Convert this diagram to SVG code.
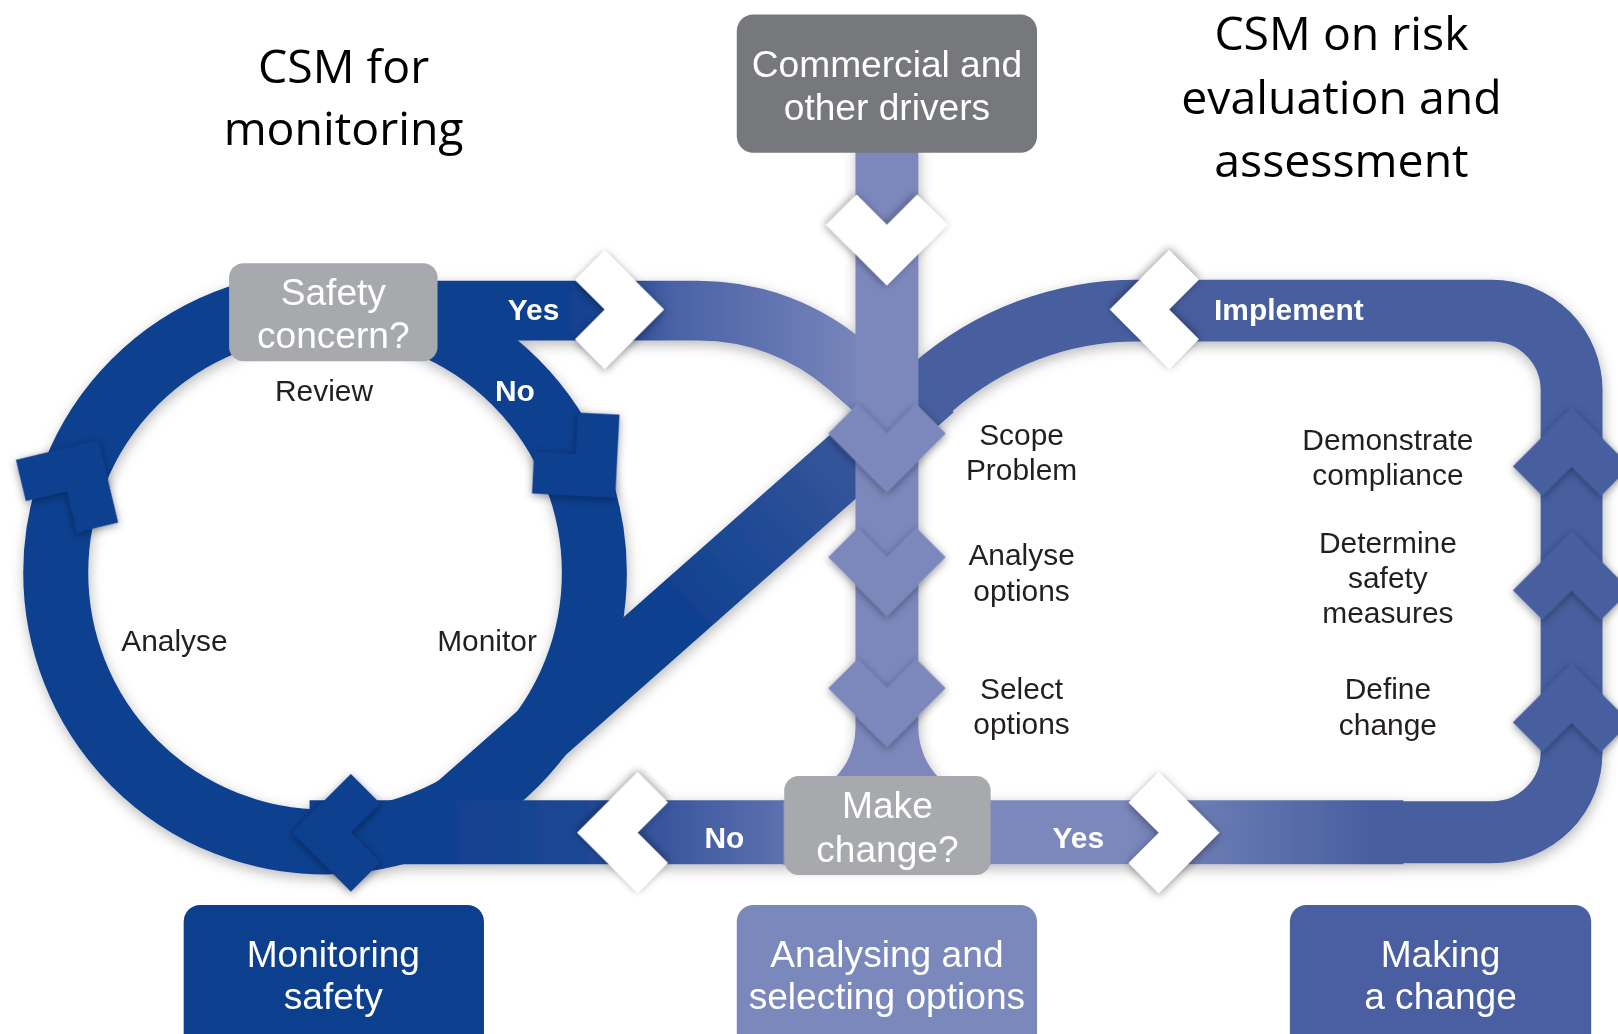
<svg xmlns="http://www.w3.org/2000/svg" width="1618" height="1034" viewBox="0 0 1618 1034">
<style>
.title{font-family:"Open Sans","Noto Sans",sans-serif;font-size:45px;fill:#000;text-anchor:middle}
.bx{font-family:"Liberation Sans",Arial,sans-serif;font-size:36px;fill:#fff;text-anchor:middle}
.lb{font-family:"Liberation Sans",Arial,sans-serif;font-size:29px;fill:#231f20;text-anchor:middle}
.yn{font-family:"Liberation Sans",Arial,sans-serif;font-size:29px;font-weight:bold;fill:#fff;text-anchor:middle}
.band{fill:none}
.wc{fill:#fff;filter:url(#csh)}
</style>
<defs>
<filter id="bsh" x="-10%" y="-10%" width="120%" height="120%"><feDropShadow dx="1" dy="4" stdDeviation="6" flood-color="#000" flood-opacity="0.28"/></filter>
<filter id="csh" x="-40%" y="-40%" width="180%" height="180%"><feDropShadow dx="0" dy="2" stdDeviation="4" flood-color="#000" flood-opacity="0.4"/></filter>
<path id="chev" d="M0 -57 L57 0 L0 57 L-28.5 28.5 L0 0 L-28.5 -28.5 Z"/>
<linearGradient id="gTopL" gradientUnits="userSpaceOnUse" x1="540" y1="0" x2="850" y2="0">
<stop offset="0" stop-color="#0d3f8f"/><stop offset="0.18" stop-color="#1f4792"/><stop offset="0.36" stop-color="#4a62a6"/><stop offset="1" stop-color="#7b88bc"/>
</linearGradient>
<linearGradient id="gNo" gradientUnits="userSpaceOnUse" x1="770" y1="0" x2="400" y2="0">
<stop offset="0" stop-color="#6073b0"/><stop offset="0.3" stop-color="#3f5aa0"/><stop offset="0.55" stop-color="#1e4693"/><stop offset="1" stop-color="#0d3f8f"/>
</linearGradient>
<linearGradient id="gYesR" gradientUnits="userSpaceOnUse" x1="1090" y1="0" x2="1330" y2="0">
<stop offset="0" stop-color="#7b88bc"/><stop offset="1" stop-color="#475f9f"/>
</linearGradient>
<linearGradient id="gDiag" gradientUnits="userSpaceOnUse" x1="903" y1="376" x2="650" y2="600">
<stop offset="0" stop-color="#475f9f"/><stop offset="1" stop-color="#0d3f8f"/>
</linearGradient>
</defs>
<rect width="1618" height="1034" fill="#fff"/>
<g transform="scale(1.0319)">
<g id="connectors" filter="url(#bsh)">
<path class="band" d="M903.4 375.8 L425 798.5" stroke="url(#gDiag)" stroke-width="63"/>
<path class="band" d="M1350 806.5 H1446 A77 77 0 0 0 1523 729.5 V378 A77 77 0 0 0 1446 301 H1101.6 A300 300 0 0 0 903.4 375.8 L885 392" stroke="#475f9f" stroke-width="60"/>
<circle cx="315" cy="555" r="261" class="band" stroke="#0d3f8f" stroke-width="63"/>
<path class="band" d="M775 806.5 H300" stroke="url(#gNo)" stroke-width="62"/>
<path class="band" d="M945 806.5 H1360" stroke="url(#gYesR)" stroke-width="62"/>
<path class="band" d="M400 301 H677 A220 220 0 0 1 822.3 355.8 L859.5 388.6" stroke="url(#gTopL)" stroke-width="58"/>
<path d="M829 140 V705 A70 70 0 0 1 759 775 V838 H960 V775 A70 70 0 0 1 890 705 V140 Z" fill="#7b88bc"/>
</g>
<g id="chevrons" filter="url(#csh)">
<use href="#chev" fill="#0d3f8f" transform="translate(340,807) rotate(180)"/>
<use href="#chev" fill="#0d3f8f" transform="translate(65,476) rotate(-58.5) scale(1.02)"/>
<use href="#chev" fill="#0d3f8f" transform="translate(558,440) rotate(48)"/>
<use href="#chev" fill="#7b88bc" transform="translate(859.5,420) rotate(90)"/>
<use href="#chev" fill="#7b88bc" transform="translate(859.5,540) rotate(90)"/>
<use href="#chev" fill="#7b88bc" transform="translate(859.5,667) rotate(90)"/>
<use href="#chev" fill="#475f9f" transform="translate(1523,452) rotate(-90)"/>
<use href="#chev" fill="#475f9f" transform="translate(1523,572) rotate(-90)"/>
<use href="#chev" fill="#475f9f" transform="translate(1523,700) rotate(-90)"/>
</g>
<g id="white-chevrons">
<use href="#chev" class="wc" transform="translate(859.5,218) rotate(90) scale(1.03)"/>
<use href="#chev" class="wc" transform="translate(586,300) scale(1.01)"/>
<use href="#chev" class="wc" transform="translate(1133,300) rotate(180) scale(1.01)"/>
<use href="#chev" class="wc" transform="translate(618,807) rotate(180) scale(1.03)"/>
<use href="#chev" class="wc" transform="translate(1123,807) scale(1.03)"/>
</g>
<g id="node-commercial">
<rect x="714" y="14" width="291" height="134" rx="16" fill="#77787b"/>
<text class="bx" x="859.5" y="75">Commercial and</text>
<text class="bx" x="859.5" y="116">other drivers</text>
</g>
<g id="node-safety">
<rect x="222" y="255" width="202" height="95" rx="14" fill="#a7a9ac"/>
<text class="bx" x="323" y="296">Safety</text>
<text class="bx" x="323" y="337">concern?</text>
</g>
<g id="node-makechange">
<rect x="760" y="752" width="200" height="96" rx="14" fill="#a7a9ac"/>
<text class="bx" x="860" y="793">Make</text>
<text class="bx" x="860" y="835">change?</text>
</g>
<g id="node-monitoring">
<rect x="178" y="877" width="291" height="145" rx="16" fill="#0d3f8f"/>
<text class="bx" x="323" y="937">Monitoring</text>
<text class="bx" x="323" y="978">safety</text>
</g>
<g id="node-analysing">
<rect x="714" y="877" width="291" height="145" rx="16" fill="#7b88bc"/>
<text class="bx" x="859.5" y="937">Analysing and</text>
<text class="bx" x="859.5" y="978">selecting options</text>
</g>
<g id="node-making">
<rect x="1250" y="877" width="292" height="145" rx="16" fill="#4a5fa1"/>
<text class="bx" x="1396" y="937">Making</text>
<text class="bx" x="1396" y="978">a change</text>
</g>
<g id="labels">
<text class="yn" x="517" y="310">Yes</text>
<text class="yn" x="499" y="389">No</text>
<text class="yn" x="1249" y="310">Implement</text>
<text class="yn" x="702" y="822">No</text>
<text class="yn" x="1045" y="822">Yes</text>
<text class="lb" x="314" y="389">Review</text>
<text class="lb" x="169" y="631">Analyse</text>
<text class="lb" x="472" y="631">Monitor</text>
<text class="lb" x="990" y="431">Scope</text>
<text class="lb" x="990" y="465">Problem</text>
<text class="lb" x="990" y="548">Analyse</text>
<text class="lb" x="990" y="582">options</text>
<text class="lb" x="990" y="677">Select</text>
<text class="lb" x="990" y="711">options</text>
<text class="lb" x="1345" y="436">Demonstrate</text>
<text class="lb" x="1345" y="470">compliance</text>
<text class="lb" x="1345" y="536">Determine</text>
<text class="lb" x="1345" y="570">safety</text>
<text class="lb" x="1345" y="604">measures</text>
<text class="lb" x="1345" y="677">Define</text>
<text class="lb" x="1345" y="712">change</text>
</g>
<g id="titles">
<text class="title" x="333" y="80">CSM for</text>
<text class="title" x="333" y="141">monitoring</text>
<text class="title" x="1300" y="48">CSM on risk</text>
<text class="title" x="1300" y="110">evaluation and</text>
<text class="title" x="1300" y="172">assessment</text>
</g>
</g>
</svg>
